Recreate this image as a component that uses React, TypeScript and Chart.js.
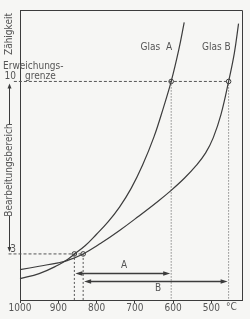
import React, { useEffect, useRef } from "react";
import { Chart, registerables } from "chart.js";

Chart.register(...registerables);

// Temperature (°C) and viscosity (log scale units)
const tempA = [1000, 950, 900, 877, 860, 830, 800, 770, 740, 710, 680, 650, 625, 605, 585, 571];
const valA = [2.0, 2.2, 2.55, 2.76, 2.97, 3.33, 3.8, 4.3, 4.9, 5.65, 6.6, 7.75, 8.95, 10.0, 11.3, 12.4];
const tempB = [1000, 950, 900, 877, 835, 790, 740, 690, 640, 605, 570, 540, 515, 495, 475, 455, 440, 429];
const valB = [2.36, 2.5, 2.64, 2.73, 3.0, 3.42, 3.95, 4.53, 5.13, 5.58, 6.08, 6.58, 7.1, 7.72, 8.65, 10.0, 11.15, 12.35];

const xTicks = [1000, 900, 800, 700, 600, 500];
const yTicks = [3, 10];

const softening = 10; // Erweichungsgrenze
const working = 3; // Bearbeitungsgrenze
const tSoftA = 605;
const tSoftB = 455;
const tWorkA = 858;
const tWorkB = 835;
const arrowLevelA = 2.24;
const arrowLevelB = 1.89;

const X_MIN = 420;
const X_MAX = 1000;
const Y_MIN = 1.13;
const Y_MAX = 12.9;

const INK = "#3c3c3c";
const TEXT = "#555555";
const FONT = "'DejaVu Sans Condensed', 'DejaVu Sans', sans-serif";

const annotate = {
  id: "annotate",
  afterDatasetsDraw(chart: any) {
    const { ctx, chartArea, scales } = chart;
    const xs = scales.x;
    const ys = scales.y;
    const px = (t: number) => xs.getPixelForValue(t);
    const py = (v: number) => ys.getPixelForValue(v);
    ctx.save();
    // frame top + right
    ctx.strokeStyle = INK;
    ctx.lineWidth = 1;
    ctx.beginPath();
    ctx.moveTo(chartArea.left, chartArea.top + 0.5);
    ctx.lineTo(chartArea.right + 0.5, chartArea.top + 0.5);
    ctx.lineTo(chartArea.right + 0.5, chartArea.bottom);
    ctx.stroke();

    const arrowHead = (x: number, y: number, dx: number, dy: number) => {
      ctx.beginPath();
      if (dx !== 0) {
        ctx.moveTo(x, y);
        ctx.lineTo(x - dx * 7, y - 2.2);
        ctx.lineTo(x - dx * 7, y + 2.2);
      } else {
        ctx.moveTo(x, y);
        ctx.lineTo(x - 2, y - dy * 5);
        ctx.lineTo(x + 2, y - dy * 5);
      }
      ctx.closePath();
      ctx.fill();
    };

    ctx.fillStyle = INK;
    // range arrows A, B
    const hArrow = (t1: number, t2: number, v: number) => {
      const y = Math.round(py(v)) + 0.5;
      const x1 = px(t1) + 1;
      const x2 = px(t2) - 1;
      ctx.lineWidth = 1.6;
      ctx.beginPath();
      ctx.moveTo(x1 + 4, y);
      ctx.lineTo(x2 - 4, y);
      ctx.stroke();
      arrowHead(x1, y, -1, 0);
      arrowHead(x2, y, 1, 0);
    };
    hArrow(tWorkA, tSoftA, arrowLevelA);
    hArrow(tWorkB, tSoftB, arrowLevelB);

    // vertical double arrow on the left
    const ax = chartArea.left - 10.5;
    const yTop = py(softening) + 2;
    const yBot = py(working) - 2;
    ctx.lineWidth = 1;
    ctx.beginPath();
    ctx.moveTo(ax, yTop + 3);
    ctx.lineTo(ax, 124);
    ctx.moveTo(ax, 216);
    ctx.lineTo(ax, yBot - 3);
    ctx.stroke();
    arrowHead(ax, yTop, 0, -1);
    arrowHead(ax, yBot, 0, 1);

    ctx.fillStyle = TEXT;
    ctx.font = `10px ${FONT}`;
    ctx.textBaseline = "middle";
    ctx.textAlign = "center";
    ctx.fillText("Glas  A", px(644), py(11.4));
    ctx.fillText("Glas B", px(487), py(11.4));
    ctx.fillText("A", px(728), py(2.55));
    ctx.fillText("B", px(639), py(1.6));
    ctx.fillText("°C", px(448), chartArea.bottom + 7);

    ctx.textAlign = "left";
    ctx.fillText("Erweichungs-", 3, py(softening) - 15);
    ctx.fillText("grenze", 25, py(softening) - 5);

    ctx.save();
    ctx.translate(ax, 34);
    ctx.rotate(-Math.PI / 2);
    ctx.textAlign = "center";
    ctx.fillText("Zähigkeit", 0, 0);
    ctx.restore();

    ctx.save();
    ctx.translate(ax, 170);
    ctx.rotate(-Math.PI / 2);
    ctx.textAlign = "center";
    ctx.fillText("Bearbeitungsbereich", 0, 0);
    ctx.restore();

    ctx.restore();
  },
};

export default function App() {
  const ref = useRef<HTMLCanvasElement>(null);
  useEffect(() => {
    if (!ref.current) return;
    const curve = (t: number[], v: number[]) => t.map((x, i) => ({ x, y: v[i] }));
    const chart = new Chart(ref.current, {
      type: "line",
      data: {
        datasets: [
          {
            data: curve(tempA, valA),
            borderColor: INK,
            borderWidth: 1.2,
            pointRadius: 0,
            tension: 0.4,
            clip: false,
          },
          {
            data: curve(tempB, valB),
            borderColor: INK,
            borderWidth: 1.2,
            pointRadius: 0,
            tension: 0.4,
            clip: false,
          },
          {
            data: [
              { x: 1016, y: softening },
              { x: tSoftB, y: softening },
            ],
            borderColor: TEXT,
            borderWidth: 1,
            borderDash: [3, 2],
            pointRadius: 0,
            clip: false,
          },
          {
            data: [
              { x: 1030, y: working },
              { x: tWorkB, y: working },
            ],
            borderColor: TEXT,
            borderWidth: 1,
            borderDash: [3, 2],
            pointRadius: 0,
            clip: false,
          },
          ...[tSoftA, tSoftB].map((t) => ({
            data: [
              { x: t, y: softening },
              { x: t, y: Y_MIN },
            ],
            borderColor: TEXT,
            borderWidth: 1,
            borderDash: [1, 2],
            pointRadius: 0,
          })),
          ...[tWorkA, tWorkB].map((t) => ({
            data: [
              { x: t, y: working },
              { x: t, y: Y_MIN },
            ],
            borderColor: TEXT,
            borderWidth: 1,
            borderDash: [2, 2],
            pointRadius: 0,
          })),
          {
            data: [
              { x: tWorkA, y: working },
              { x: tWorkB, y: working },
              { x: tSoftA, y: softening },
              { x: tSoftB, y: softening },
            ],
            showLine: false,
            pointRadius: 2.3,
            pointBackgroundColor: "#f6f6f4",
            pointBorderColor: INK,
            pointBorderWidth: 1,
          },
        ] as any,
      },
      options: {
        animation: false,
        responsive: false,
        events: [],
        layout: { padding: { top: 4, right: 8, left: 0, bottom: 0 } },
        plugins: { legend: { display: false }, tooltip: { enabled: false } },
        scales: {
          x: {
            type: "linear",
            reverse: true,
            min: X_MIN,
            max: X_MAX,
            afterBuildTicks: (s: any) => {
              s.ticks = xTicks.map((value) => ({ value }));
            },
            afterFit: (s: any) => {
              s.height = 19;
            },
            grid: { display: true, drawOnChartArea: false, drawTicks: true, tickLength: 3, color: INK },
            border: { display: true, color: INK, width: 1 },
            ticks: {
              color: TEXT,
              font: { family: FONT, size: 10 },
              padding: -1,
              maxRotation: 0,
              autoSkip: false,
              callback: (v: any) => String(v),
            },
          },
          y: {
            type: "linear",
            min: Y_MIN,
            max: Y_MAX,
            afterBuildTicks: (s: any) => {
              s.ticks = yTicks.map((value) => ({ value }));
            },
            afterFit: (s: any) => {
              s.width = 20;
            },
            grid: { display: false, drawTicks: false },
            border: { display: true, color: INK, width: 1 },
            ticks: {
              color: TEXT,
              font: { family: FONT, size: 10 },
              padding: 4,
              labelOffset: -5,
              autoSkip: false,
              callback: (v: any) => String(v),
            },
          },
        },
      } as any,
      plugins: [annotate],
    });
    return () => chart.destroy();
  }, []);
  return (
    <div style={{ position: "fixed", left: 0, top: 0, width: 250, height: 319, background: "#f6f6f4" }}>
      <canvas ref={ref} width={250} height={319} style={{ display: "block" }} />
    </div>
  );
}
